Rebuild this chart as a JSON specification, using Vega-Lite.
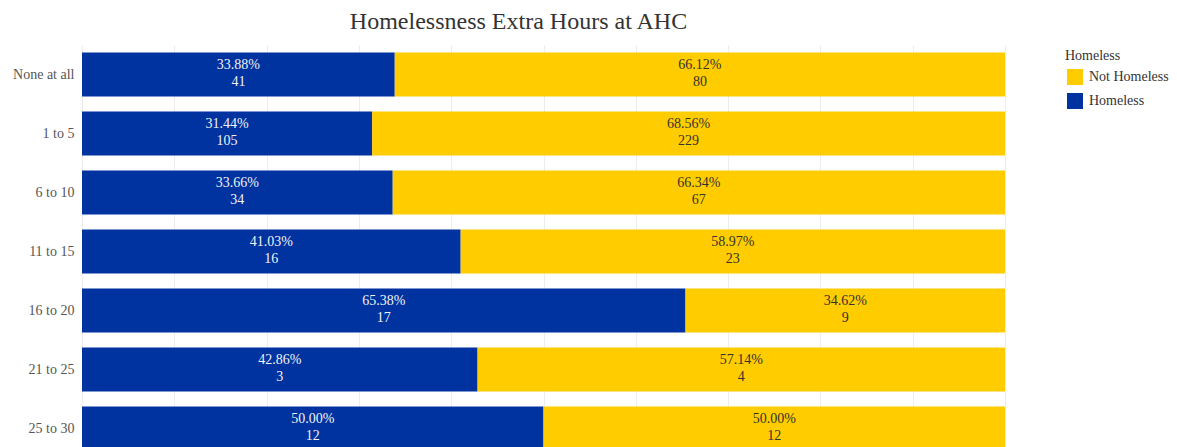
{
  "$schema": "https://vega.github.io/schema/vega-lite/v6.json",
  "width": 923,
  "height": 413,
  "autosize": {"type": "none"},
  "padding": {"left": 82, "top": 45, "right": 172, "bottom": 0},
  "background": "white",
  "title": {
    "text": "Homelessness Extra Hours at AHC",
    "font": "Liberation Serif, serif",
    "fontSize": 24,
    "fontWeight": "normal",
    "color": "#333333",
    "anchor": "middle",
    "dx": -25,
    "offset": 11
  },
  "config": {"view": {"stroke": null}, "font": "Liberation Serif, serif"},
  "data": {
    "values": [
      {"hours": "None at all", "status": "Homeless", "count": 41, "pct": 0.3388},
      {"hours": "None at all", "status": "Not Homeless", "count": 80, "pct": 0.6612},
      {"hours": "1 to 5", "status": "Homeless", "count": 105, "pct": 0.3144},
      {"hours": "1 to 5", "status": "Not Homeless", "count": 229, "pct": 0.6856},
      {"hours": "6 to 10", "status": "Homeless", "count": 34, "pct": 0.3366},
      {"hours": "6 to 10", "status": "Not Homeless", "count": 67, "pct": 0.6634},
      {"hours": "11 to 15", "status": "Homeless", "count": 16, "pct": 0.4103},
      {"hours": "11 to 15", "status": "Not Homeless", "count": 23, "pct": 0.5897},
      {"hours": "16 to 20", "status": "Homeless", "count": 17, "pct": 0.6538},
      {"hours": "16 to 20", "status": "Not Homeless", "count": 9, "pct": 0.3462},
      {"hours": "21 to 25", "status": "Homeless", "count": 3, "pct": 0.4286},
      {"hours": "21 to 25", "status": "Not Homeless", "count": 4, "pct": 0.5714},
      {"hours": "25 to 30", "status": "Homeless", "count": 12, "pct": 0.5},
      {"hours": "25 to 30", "status": "Not Homeless", "count": 12, "pct": 0.5}
    ]
  },
  "transform": [
    {
      "stack": "count",
      "groupby": ["hours"],
      "sort": [{"field": "status", "order": "ascending"}],
      "offset": "normalize",
      "as": ["x0", "x1"]
    }
  ],
  "encoding": {
    "y": {
      "field": "hours",
      "type": "nominal",
      "sort": ["None at all", "1 to 5", "6 to 10", "11 to 15", "16 to 20", "21 to 25", "25 to 30"],
      "scale": {"paddingInner": 0.254, "paddingOuter": 0.127},
      "title": null,
      "axis": {
        "domain": false,
        "ticks": false,
        "grid": false,
        "labelPadding": 8,
        "labelFont": "Liberation Serif, serif",
        "labelFontSize": 14,
        "labelColor": "#555555"
      }
    }
  },
  "layer": [
    {
      "mark": {"type": "bar"},
      "encoding": {
        "x": {
          "field": "x0",
          "type": "quantitative",
          "scale": {"domain": [0, 1], "nice": false, "zero": true},
          "title": null,
          "axis": {
            "values": [0, 0.1, 0.2, 0.3, 0.4, 0.5, 0.6, 0.7, 0.8, 0.9, 1],
            "labels": false,
            "ticks": false,
            "domain": false,
            "grid": true,
            "gridColor": "#ececec",
            "gridWidth": 1
          }
        },
        "x2": {"field": "x1"},
        "color": {
          "field": "status",
          "type": "nominal",
          "scale": {"domain": ["Not Homeless", "Homeless"], "range": ["#FFCC00", "#0033A0"]},
          "legend": {
            "title": "Homeless",
            "orient": "none",
            "legendX": 983,
            "legendY": 4,
            "titleFont": "Liberation Serif, serif",
            "titleFontSize": 14,
            "titleFontWeight": "normal",
            "titleColor": "#333333",
            "titlePadding": 6,
            "labelFont": "Liberation Serif, serif",
            "labelFontSize": 14,
            "labelColor": "#333333",
            "labelOffset": 6,
            "symbolType": "square",
            "symbolSize": 256,
            "symbolStrokeWidth": 0,
            "symbolOpacity": 1,
            "symbolOffset": 2,
            "rowPadding": 8
          }
        }
      }
    },
    {
      "mark": {
        "type": "text",
        "x": {"expr": "scale('x', (datum.x0 + datum.x1) / 2)"},
        "dy": -10,
        "font": "Liberation Serif, serif",
        "fontSize": 14,
        "baseline": "middle",
        "align": "center"
      },
      "encoding": {
        "text": {"field": "pct", "type": "quantitative", "format": ".2%"},
        "color": {"condition": {"test": "datum.status === 'Homeless'", "value": "#f2f2f2"}, "value": "#333333"}
      }
    },
    {
      "mark": {
        "type": "text",
        "x": {"expr": "scale('x', (datum.x0 + datum.x1) / 2)"},
        "dy": 7,
        "font": "Liberation Serif, serif",
        "fontSize": 14,
        "baseline": "middle",
        "align": "center"
      },
      "encoding": {
        "text": {"field": "count", "type": "quantitative"},
        "color": {"condition": {"test": "datum.status === 'Homeless'", "value": "#f2f2f2"}, "value": "#333333"}
      }
    }
  ]
}
